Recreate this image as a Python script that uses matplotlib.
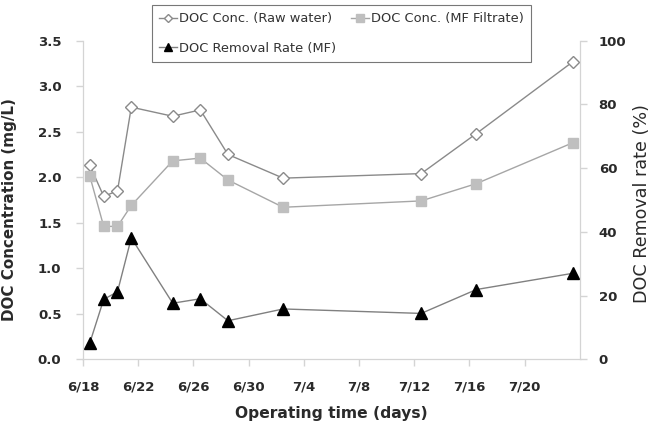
import matplotlib
matplotlib.use("Agg")
import matplotlib.pyplot as plt
import matplotlib.dates as mdates
import numpy as np
import datetime as dt

dates = ["2013-06-18", "2013-06-19", "2013-06-20", "2013-06-21", "2013-06-24",
         "2013-06-26", "2013-06-28", "2013-07-02", "2013-07-12", "2013-07-16",
         "2013-07-23"]
raw_water = [2.13, 1.79, 1.85, 2.77, 2.67, 2.74, 2.25, 1.99, 2.04, 2.48, 3.27]
mf_filtrate = [2.01, 1.46, 1.46, 1.69, 2.18, 2.21, 1.97, 1.67, 1.74, 1.93, 2.38]
removal_rate = [5.2, 18.8, 21.2, 38.1, 17.6, 19.0, 12.1, 15.8, 14.4, 21.9, 27.0]
xtick_labels = ["6/18", "6/22", "6/26", "6/30", "7/4", "7/8", "7/12", "7/16", "7/20"]

plt.rcParams['font.family'] = ['DejaVu Sans']

# points centred within each day (Excel date axis style)
x = [mdates.date2num(dt.datetime.fromisoformat(d)) + 0.5 for d in dates]
start = mdates.date2num(dt.datetime(2013, 6, 18))
tick_pos = [start + 4 * i for i in range(len(xtick_labels))]

fig = plt.figure(figsize=(6.56, 4.23), dpi=100)
ax = fig.add_axes([0.1265, 0.1506, 0.7575, 0.7532])
ax2 = ax.twinx()

l1, = ax.plot(x, raw_water, color='#8a8a8a', lw=1.0, marker='D', ms=6,
              mfc='white', mec='#8a8a8a', mew=1.0, label='DOC Conc. (Raw water)')
l2, = ax.plot(x, mf_filtrate, color='#a6a6a6', lw=1.0, marker='s', ms=7.5,
              mfc='#bfbfbf', mec='#bfbfbf', label='DOC Conc. (MF Filtrate)')
l3, = ax2.plot(x, removal_rate, color='#808080', lw=1.0, marker='^', ms=8,
               mfc='black', mec='black', label='DOC Removal Rate (MF)')

ax.set_xlim(start, start + 36)
ax.set_ylim(0, 3.5)
ax2.set_ylim(0, 100)
ax.set_yticks(np.arange(0, 3.51, 0.5))
ax.set_yticklabels([f"{v:.1f}" for v in np.arange(0, 3.51, 0.5)])
ax2.set_yticks(range(0, 101, 20))
ax.set_xticks(tick_pos)
ax.set_xticklabels(xtick_labels)

for a in (ax, ax2):
    for s in a.spines.values():
        s.set_color('#d4d4d4')
    a.spines['top'].set_visible(False)
    a.tick_params(colors='#d4d4d4', labelcolor='#2a2a2a', length=5, width=1,
                  labelsize=9.5)
ax.tick_params(axis='y', pad=10.5)
ax.tick_params(axis='x', pad=10)
ax2.tick_params(axis='y', pad=8.5)
for lab in ax.get_xticklabels() + ax.get_yticklabels() + ax2.get_yticklabels():
    lab.set_fontweight('bold')

ax.set_ylabel('DOC Concentration (mg/L)', fontsize=10.9, fontweight='bold',
              color='#2a2a2a', labelpad=15)
ax.yaxis.label.set_y(0.47)
ax2.set_ylabel('DOC Removal rate (%)', fontsize=12.6, color='#2a2a2a', labelpad=5)
ax2.yaxis.label.set_y(0.49)
ax.set_xlabel('Operating time (days)', fontsize=11.2, fontweight='bold',
              color='#2a2a2a', labelpad=9)

leg = fig.legend([l1, l3, l2], [l1.get_label(), l3.get_label(), l2.get_label()],
                 ncol=2, loc='upper left', bbox_to_anchor=(0.2317, 0.988),
                 frameon=True, fancybox=False, edgecolor='#555555',
                 fontsize=9.4, handlelength=1.4, handletextpad=0.15,
                 columnspacing=1.1, borderpad=0.55, labelspacing=1.25,
                 markerscale=0.7, borderaxespad=0)
leg.get_frame().set_linewidth(0.8)
for t in leg.get_texts():
    t.set_color('#333333')

fig.savefig('out.png', dpi=100)
